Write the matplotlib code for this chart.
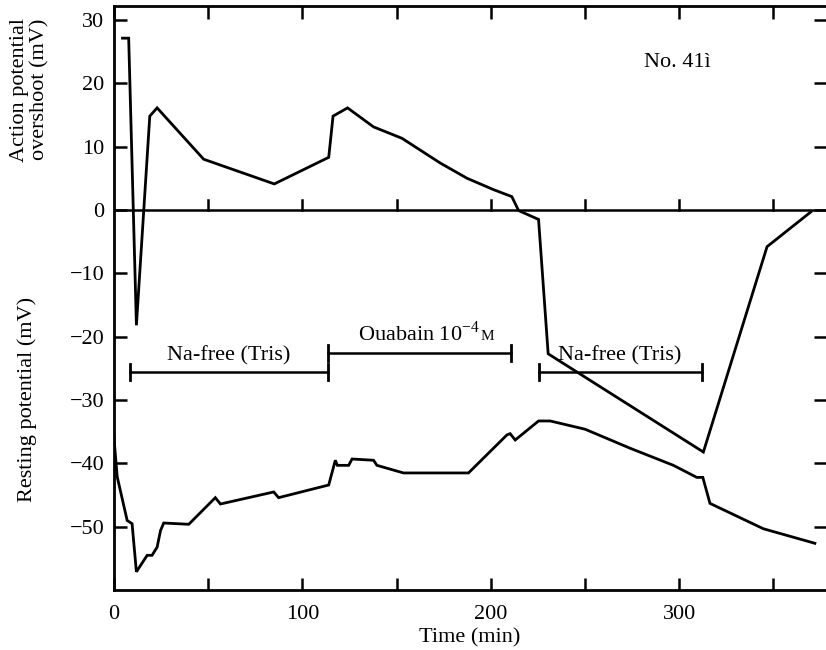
"""Overshoot and resting potential vs time, fibre No. 41."""
import numpy as np
import matplotlib
matplotlib.use("Agg")
import matplotlib.pyplot as plt

plt.rcParams["font.family"] = ["Liberation Serif", "DejaVu Serif"]
plt.rcParams["mathtext.fontset"] = "custom"
plt.rcParams["mathtext.rm"] = "Liberation Serif"

# action potential overshoot (mV)
overshoot_t = [4.5, 7.8, 11.9, 19.0, 22.9, 47.6, 85.1, 114.0, 116.3, 124.0, 137.8,
               152.9, 173.2, 187.4, 201.5, 211.2, 214.8, 225.4, 230.5, 312.9, 346.7, 370.0]
overshoot_mv = [27.1, 27.1, -18.2, 14.8, 16.1, 8.0, 4.1, 8.3, 14.8, 16.1, 13.1,
                11.3, 7.4, 5.0, 3.2, 2.1, -0.1, -1.5, -22.7, -38.2, -5.8, -0.3]

# resting potential (mV)
resting_t = [0, 1.7, 7.0, 9.6, 11.9, 17.6, 20.2, 22.9, 24.7, 26.4, 39.7, 53.8, 56.5,
             84.8, 87.4, 114.0, 117.5, 118.6, 124.6, 126.4, 137.8, 139.6, 153.7, 188.2,
             208.6, 210.3, 213.0, 225.4, 231.6, 250.1, 274.0, 297.0, 309.4, 312.6,
             316.4, 344.7, 372.1]
resting_mv = [-36.0, -42.1, -49.0, -49.5, -57.1, -54.5, -54.5, -53.2, -50.6, -49.4, -49.6,
              -45.4, -46.4, -44.5, -45.4, -43.4, -39.5, -40.3, -40.3, -39.3, -39.5, -40.3,
              -41.5, -41.5, -35.5, -35.3, -36.3, -33.3, -33.3, -34.6, -37.6, -40.3, -42.2,
              -42.2, -46.3, -50.3, -52.6]

# treatment periods
bar_labels = ["Na-free (Tris)", "Ouabain 10$^{-4}$", "Na-free (Tris)"]
bar_start = [8.4, 113.8, 225.4]
bar_end = [113.8, 210.7, 312.0]
bar_y = [-25.6, -22.6, -25.6]

fig = plt.figure(figsize=(8.26, 6.5), dpi=100)
ax = fig.add_axes([0.138, 0.092, 0.862, 0.899])

lw = 2.0
ax.plot(overshoot_t, overshoot_mv, color="black", lw=lw, solid_joinstyle="miter")
ax.plot(resting_t, resting_mv, color="black", lw=lw, solid_joinstyle="miter")
ax.axhline(0, color="black", lw=1.8)

fs = 16
for lab, x0, x1, y in zip(bar_labels, bar_start, bar_end, bar_y):
    ax.plot([x0, x1], [y, y], color="black", lw=1.8)
    ax.plot([x0, x0], [y - 1.3, y + 1.3], color="black", lw=2.0)
    ax.plot([x1, x1], [y - 1.3, y + 1.3], color="black", lw=2.0)
    xm = (x0 + x1) / 2
    if lab.startswith("Ouabain"):
        ax.text(xm + 32, y + 2.0, lab, ha="right", va="baseline", fontsize=fs)
        ax.text(xm + 32.5, y + 2.0, "M", ha="left", va="baseline", fontsize=11)
    else:
        ax.text(xm, y + 1.8, lab, ha="center", va="baseline", fontsize=fs)

ax.text(299, 23.2, "No. 41ì", ha="center", va="center", fontsize=fs)

# ticks pointing up from the zero line
for xt in np.arange(50, 351, 50):
    ax.plot([xt, xt], [0, 1.5], color="black", lw=1.8)

ax.set_xlim(0, 378)
ax.set_ylim(-60, 32.2)
ax.set_xticks(np.arange(0, 351, 50))
ax.set_xticklabels(["0", "", "100", "", "200", "", "300", ""])
ax.set_yticks(np.arange(-50, 31, 10))
ax.tick_params(direction="in", length=9, width=1.8, labelsize=fs,
               top=True, right=True, pad=7)
ax.tick_params(axis="x", pad=11)
ax.spines["right"].set_visible(False)
for s in ["left", "bottom", "top"]:
    ax.spines[s].set_linewidth(2.0)

ax.set_xlabel("Time (min)", fontsize=fs, labelpad=3)
fig.text(0.036, 0.862, "Action potential\novershoot (mV)", rotation=90,
         ha="center", va="center", fontsize=fs, linespacing=1.1)
fig.text(0.033, 0.385, "Resting potential (mV)", rotation=90,
         ha="center", va="center", fontsize=fs)

fig.savefig("out.png", dpi=100)
